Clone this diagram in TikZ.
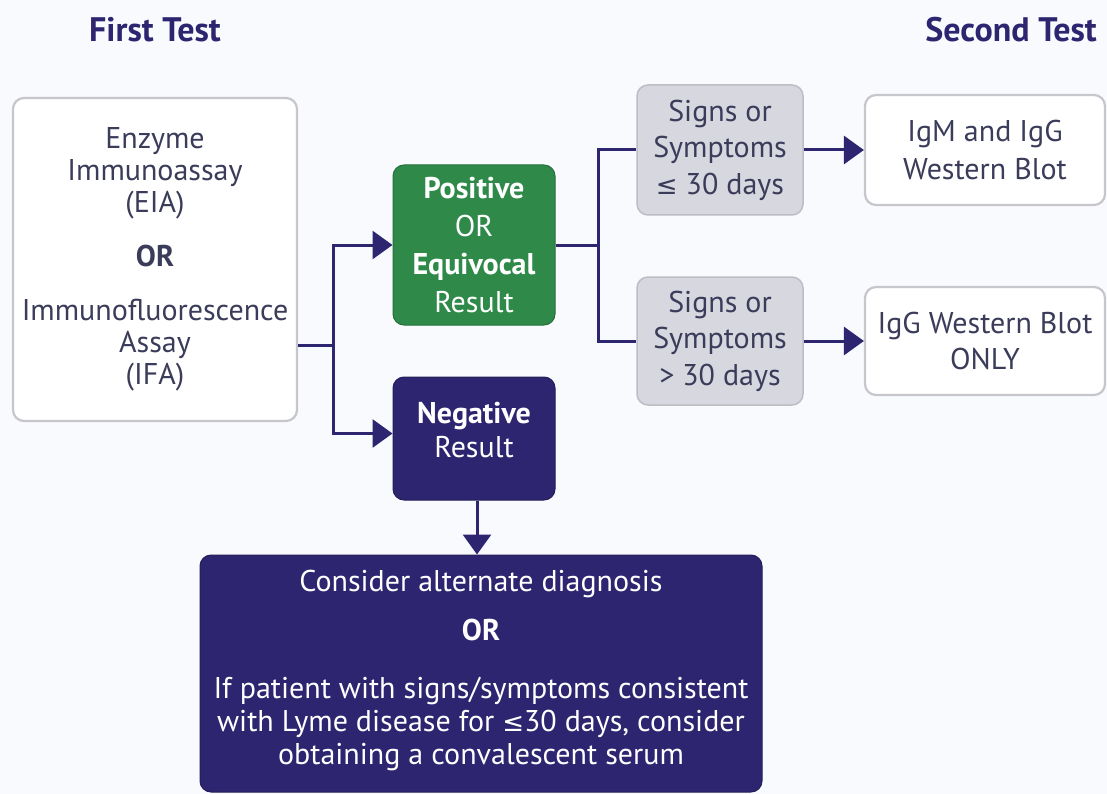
\documentclass[tikz,border=0pt]{standalone}
\usepackage{fontspec}
\setmainfont{PT Sans}
\newfontfamily\symf{DejaVu Sans}
\usetikzlibrary{arrows.meta,calc}
\definecolor{navy}{HTML}{2E2570}
\definecolor{grn}{HTML}{2F8A4A}
\definecolor{bg}{HTML}{F8FAFD}
\definecolor{txt}{HTML}{3A3C5A}
\definecolor{grayfill}{HTML}{D7D7DF}
\definecolor{grayline}{HTML}{BDBDC6}
\definecolor{boxline}{HTML}{C6C6CC}
\tikzset{
  base/.style={rounded corners=11pt, align=center, inner sep=0pt, font=\fontsize{30}{33}\selectfont},
  whitebox/.style={base, draw=boxline, line width=2.2pt, fill=white, text=txt},
  graybox/.style={base, draw=grayline, line width=1.5pt, fill=grayfill, text=txt, font=\fontsize{30}{36.5}\selectfont},
  greenbox/.style={base, draw=grn!80!black, line width=1pt, fill=grn, text=white, font=\fontsize{30}{38}\selectfont},
  navybox/.style={base, draw=navy!80!black, line width=1pt, fill=navy, text=white},
  boxtext/.style={align=center, inner sep=0pt, text=white},
  title/.style={font=\fontsize{34}{40}\selectfont\bfseries, text=navy},
  conn/.style={draw=navy, line width=3pt},
  arr/.style={conn, -{Triangle[length=20pt,width=28pt]}},
}
\begin{document}
\begin{tikzpicture}[x=1pt,y=-1pt]
\fill[bg] (0,0) rectangle (1107,794);
\useasboundingbox (0,0) rectangle (1107,794);

\node[title] (t1) at (155,30) {First Test};
\node[title] (t2) at (1011,30) {Second Test};

\node[whitebox, minimum width=284pt, minimum height=323pt, font=\fontsize{30}{32}\selectfont] (left) at (155,259.5)
  {Enzyme\\Immunoassay\\(EIA)\\[22pt]\textbf{OR}\\[22pt]Immunofluorescence\\Assay\\(IFA)};

\node[greenbox, minimum width=162pt, minimum height=160pt] (pos) at (474,245)
  {\textbf{Positive}\\OR\\\textbf{Equivocal}\\Result};
\node[navybox, minimum width=162pt, minimum height=123pt] (neg) at (474,438.5) {};
\node[boxtext, font=\fontsize{30}{34}\selectfont] (negtxt) at (474,430) {\textbf{Negative}\\Result};

\node[graybox, minimum width=166pt, minimum height=130pt] (g1) at (720,150)
  {Signs or\\Symptoms\\{\symf\fontsize{26}{36}\selectfont ≤} 30 days};
\node[graybox, minimum width=166pt, minimum height=128pt] (g2) at (720,341)
  {Signs or\\Symptoms\\> 30 days};

\node[whitebox, minimum width=240pt, minimum height=110pt, font=\fontsize{30}{38}\selectfont] (w1) at (985,150)
  {IgM and IgG\\Western Blot};
\node[whitebox, minimum width=240pt, minimum height=108pt, font=\fontsize{30}{36}\selectfont] (w2) at (985,341)
  {IgG Western Blot\\ONLY};

\node[navybox, minimum width=562pt, minimum height=237pt] (bot) at (481,673.5) {};
\node[boxtext, font=\fontsize{30}{33}\selectfont] (bottxt) at (481,670)
  {Consider alternate diagnosis\\[16pt]\textbf{OR}\\[25pt]If patient with signs/symptoms consistent\\with Lyme disease for {\symf\fontsize{26}{33}\selectfont ≤}30 days, consider\\obtaining a convalescent serum};

\coordinate (j1) at (333,345);
\coordinate (j2) at (598,245);
\draw[conn] (left.east |- j1) -- (j1);
\draw[arr] ($(j1)+(0,1.5)$) |- (pos.west);
\draw[arr] ($(j1)+(0,-1.5)$) |- ($(neg.west)+(0,-5)$);
\draw[conn] (pos.east) -- (j2);
\draw[conn] ($(j2)+(0,1.5)$) |- (g1.west);
\draw[conn] ($(j2)+(0,-1.5)$) |- (g2.west);
\draw[arr] (g1.east) -- (w1.west);
\draw[arr] (g2.east) -- (w2.west);
\draw[arr] ($(neg.south)+(3,0)$) -- ($(neg.south |- bot.north)+(3,0)$);
\end{tikzpicture}
\end{document}
